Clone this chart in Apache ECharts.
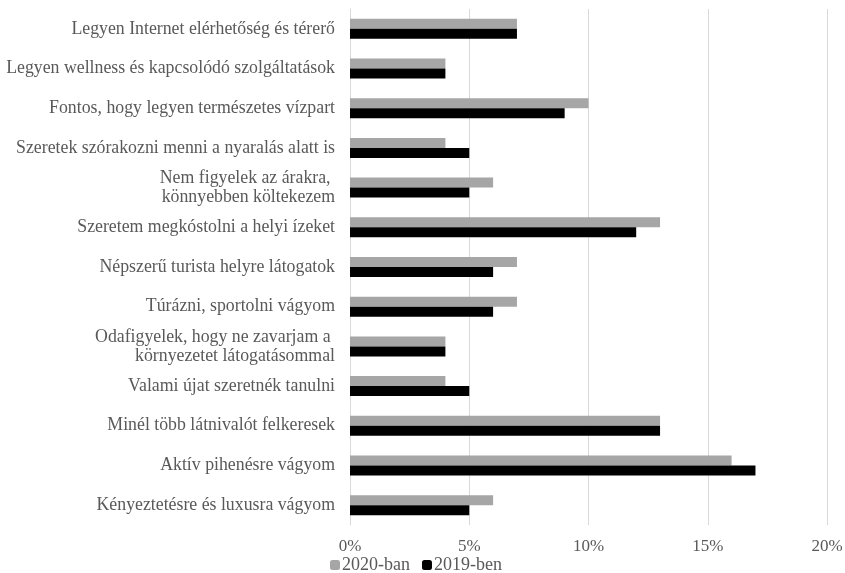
<!DOCTYPE html>
<html><head><meta charset="utf-8">
<script src="https://cdn.jsdelivr.net/npm/echarts@6/dist/echarts.min.js"></script>
<style>html,body{margin:0;padding:0;background:#fff}#c{width:845px;height:573px}</style>
</head><body><div id="c"></div>
<script>
const categories = [
  "Legyen Internet elérhetőség és térerő",
  "Legyen wellness és kapcsolódó szolgáltatások",
  "Fontos, hogy legyen természetes vízpart",
  "Szeretek szórakozni menni a nyaralás alatt is",
  "Nem figyelek az árakra, \nkönnyebben költekezem",
  "Szeretem megkóstolni a helyi ízeket",
  "Népszerű turista helyre látogatok",
  "Túrázni, sportolni vágyom",
  "Odafigyelek, hogy ne zavarjam a \nkörnyezetet látogatásommal",
  "Valami újat szeretnék tanulni",
  "Minél több látnivalót felkeresek",
  "Aktív pihenésre vágyom",
  "Kényeztetésre és luxusra vágyom"
];
const values2020 = [7, 4, 10, 4, 6, 13, 7, 7, 4, 4, 13, 16, 6];
const values2019 = [7, 4, 9, 5, 5, 12, 6, 6, 4, 5, 13, 17, 5];
const seriesNames = ["2020-ban", "2019-ben"];

const font = "'Liberation Serif', 'DejaVu Serif', serif";
const chart = echarts.init(document.getElementById('c'));
chart.setOption({
  animation: false,
  textStyle: { fontFamily: font },
  grid: { left: 350, right: 18, top: 9, bottom: 48, containLabel: false, outerBoundsMode: 'none' },
  legend: {
    bottom: -6, left: 325, itemWidth: 10, itemHeight: 10, itemGap: 12,
    textStyle: { fontFamily: font, fontSize: 18, color: '#595959', padding: [0, 0, 0, -3] },
    data: seriesNames
  },
  xAxis: {
    type: 'value', min: 0, max: 20, interval: 5,
    axisLabel: { formatter: '{value}%', fontFamily: font, fontSize: 17, color: '#595959', margin: 13 },
    splitLine: { lineStyle: { color: '#d9d9d9' } },
    axisLine: { show: false }, axisTick: { show: false }
  },
  yAxis: {
    type: 'category', inverse: true, data: categories,
    axisLine: { lineStyle: { color: '#d9d9d9' } }, axisTick: { show: false },
    axisLabel: { fontFamily: font, fontSize: 17.8, color: '#595959', margin: 15, lineHeight: 19 }
  },
  series: [
    { name: seriesNames[0], type: 'bar', data: values2020, barWidth: 10, barGap: '0%', itemStyle: { color: '#a6a6a6' } },
    { name: seriesNames[1], type: 'bar', data: values2019, barWidth: 10, barGap: '0%', itemStyle: { color: '#000000' } }
  ]
});
</script></body></html>
